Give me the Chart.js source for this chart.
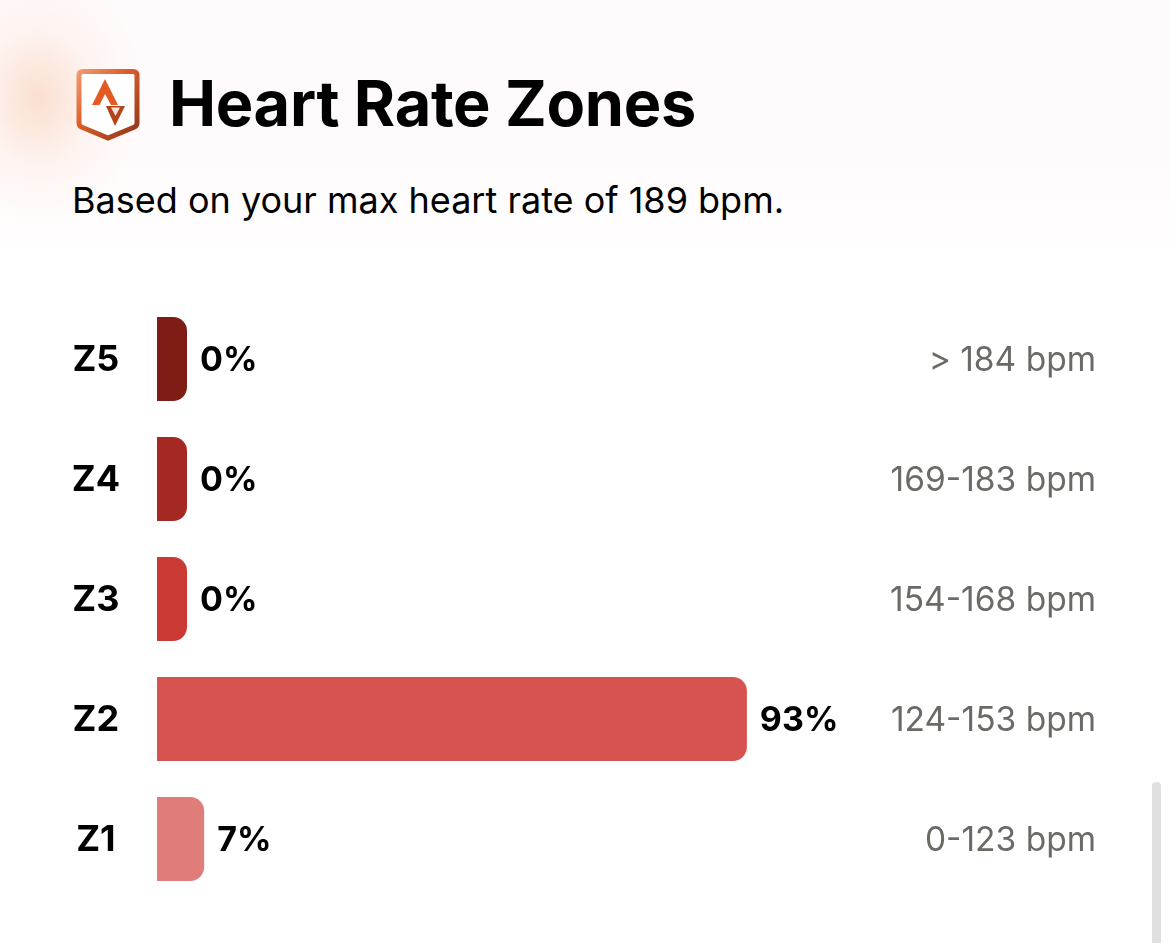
<!DOCTYPE html>
<html><head><meta charset="utf-8">
<script src="https://cdn.jsdelivr.net/npm/chart.js@4"></script>
<style>
html,body{margin:0;padding:0;width:1170px;height:943px;overflow:hidden;background:#fff;font-family:Inter,"Noto Sans",sans-serif}
#bg{position:absolute;left:0;top:0;width:1170px;height:943px;
background:radial-gradient(ellipse 105px 130px at 38px 98px,rgba(250,218,200,.85),rgba(252,235,226,.4) 55%,rgba(255,255,255,0) 100%),linear-gradient(#fffafb 0,#fffbfc 160px,#fff 260px)}
#wrap{position:absolute;left:0;top:0;width:1170px;height:943px}
h1{position:absolute;left:169px;top:64px;margin:0;font:700 63px/78px Inter,sans-serif;color:#000;letter-spacing:-.3px;white-space:nowrap}
p{position:absolute;left:72px;top:176px;margin:0;font:400 36px/48px Inter,sans-serif;color:#000;white-space:nowrap}
svg{position:absolute;left:74px;top:66px}
#sb{position:absolute;left:1152px;top:782px;width:9px;height:161px;background:#e0e0e0;border-radius:4px 4px 0 0}
</style></head><body>
<div id="bg"></div>
<svg width="68" height="78" viewBox="0 0 68 78">
<defs><linearGradient id="g" x1="0" y1="0" x2="1" y2="1"><stop offset="0" stop-color="#ee9a70"/><stop offset=".4" stop-color="#dd5f2a"/><stop offset="1" stop-color="#8f3518"/></linearGradient></defs>
<path d="M9 5.500H59Q63 5.500 63 9.500V57Q63 60 60 61.300L34 72L8 61.300Q5 60 5 57V9.500Q5 5.500 9 5.500Z" fill="#fff" stroke="url(#g)" stroke-width="5"/>
<path d="M31 13L44 39H37L31 28L25.500 39H18Z" fill="#e55a24"/>
<path d="M32 40H51L41 60Z" fill="#b5421a"/>
<path d="M37 41.500H46L41.500 50Z" fill="#f6e3d8"/>
</svg>
<h1>Heart Rate Zones</h1>
<p>Based on your max heart rate of 189 bpm.</p>
<div id="wrap"><canvas id="c" width="1170" height="943"></canvas></div>
<div id="sb"></div>
<script>
const zones = ["Z5","Z4","Z3","Z2","Z1"];
const shares = [0,0,0,92.6,7.4];
const shareLabels = ["0%","0%","0%","93%","7%"];
const ranges = ["> 184 bpm","169-183 bpm","154-168 bpm","124-153 bpm","0-123 bpm"];
const colors = ["#7e1c16","#a62822","#cb3a32","#d6534f","#e07c7a"];
const LABEL_FONT = '700 34px Inter, sans-serif';

const pctLabels = {
  id:'pctLabels',
  afterDatasetsDraw(chart){
    const {ctx} = chart;
    ctx.save();
    ctx.font = LABEL_FONT; ctx.fillStyle = '#000';
    ctx.textAlign = 'left'; ctx.textBaseline = 'middle';
    chart.getDatasetMeta(0).data.forEach((bar,i)=>{
      ctx.fillText(shareLabels[i], bar.x + 13, bar.y + 1.5);
    });
    ctx.restore();
  }
};

new Chart(document.getElementById('c'),{
  type:'bar',
  data:{labels:zones,datasets:[{
    data:shares, backgroundColor:colors, minBarLength:30,
    barPercentage:.7, categoryPercentage:1,
    borderRadius:{topRight:14,bottomRight:14,topLeft:0,bottomLeft:0},
    borderSkipped:'start', yAxisID:'y'
  }]},
  options:{
    indexAxis:'y', responsive:false, animation:false,
    layout:{padding:{top:299,bottom:44,left:0,right:74}},
    plugins:{legend:{display:false},tooltip:{enabled:false},title:{display:false}},
    scales:{
      x:{min:0,max:113.5,display:false},
      y:{position:'left',grid:{display:false,drawTicks:false},border:{display:false},
        afterFit(s){s.width=157;s.paddingTop=0;s.paddingBottom=0;},
        ticks:{crossAlign:'center',padding:37,labelOffset:1.5,color:'#000',font:{family:'Inter, sans-serif',size:36,weight:'700'}}},
      y2:{position:'right',type:'category',labels:ranges,grid:{display:false,drawTicks:false},border:{display:false},
        afterFit(s){s.width=216;s.paddingTop=0;s.paddingBottom=0;},
        ticks:{crossAlign:'far',padding:11,labelOffset:1.5,color:'#6b6a66',font:{family:'Inter, sans-serif',size:33.5,weight:'400'}}}
    }
  },
  plugins:[pctLabels]
});
</script>
</body></html>
